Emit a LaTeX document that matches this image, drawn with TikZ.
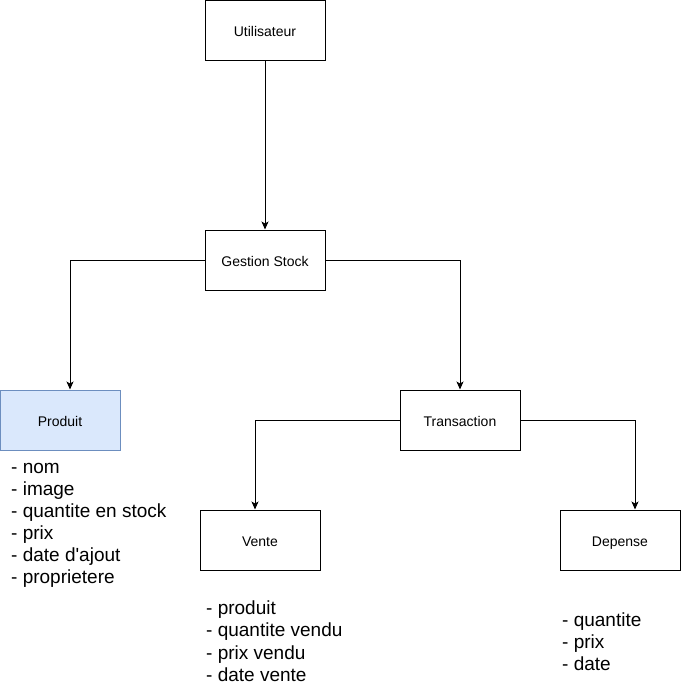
\documentclass[tikz,border=0pt]{standalone}
\usepackage{fontspec}
\setmainfont{Liberation Sans}
\usetikzlibrary{arrows.meta}
% box label with its baseline 6pt below the box centre
\newcommand{\boxlabel}[1]{\raisebox{-6pt}[0pt][0pt]{#1}}
\begin{document}
\begin{tikzpicture}[x=1pt,y=-1pt,
  box/.style={draw=black,line width=1pt,minimum width=120pt,minimum height=60pt,
    inner sep=0pt,font=\fontsize{14}{16}\selectfont},
  selbox/.style={box,draw={rgb,255:red,108;green,142;blue,191},fill={rgb,255:red,218;green,232;blue,252}},
  arr/.style={line width=1pt,-{Stealth[length=8pt,width=7pt,inset=2pt]}},
  item/.style={anchor=base west,inner sep=0pt,font=\fontsize{19}{22}\selectfont}]
\useasboundingbox (0,0) rectangle (681,691);

% boxes
\node[box] (u) at (265,30.5) {\boxlabel{Utilisateur}};
\node[box] (g) at (265,260) {\boxlabel{Gestion Stock}};
\node[selbox] (p) at (60,420) {\boxlabel{Produit}};
\node[box] (t) at (460,420) {\boxlabel{Transaction}};
\node[box] (v) at (260,540) {\boxlabel{Vente}};
\node[box] (d) at (620,540) {\boxlabel{Depense}};

% connectors
\draw[arr] (u.south) -- (g.north);
\draw[arr] (g.west) -| ([xshift=10pt]p.north);
\draw[arr] (g.east) -| (t.north);
\draw[arr] (t.west) -| ([xshift=-5pt]v.north);
\draw[arr] (t.east) -| ([xshift=15pt]d.north);

% attribute lists
\foreach \txt [count=\i] in {- nom,- image,- quantite en stock,- prix,- date d\textquotesingle ajout,- proprietere}
  \node[item] (pa\i) at (11,473.5+22*\i-22) {\txt};
\foreach \txt [count=\i] in {- produit,- quantite vendu,- prix vendu,- date vente}
  \node[item] (va\i) at (206,614.5+22.3*\i-22.3) {\txt};
\foreach \txt [count=\i] in {- quantite,- prix,- date}
  \node[item] (da\i) at (562,626+22*\i-22) {\txt};
\end{tikzpicture}
\end{document}
